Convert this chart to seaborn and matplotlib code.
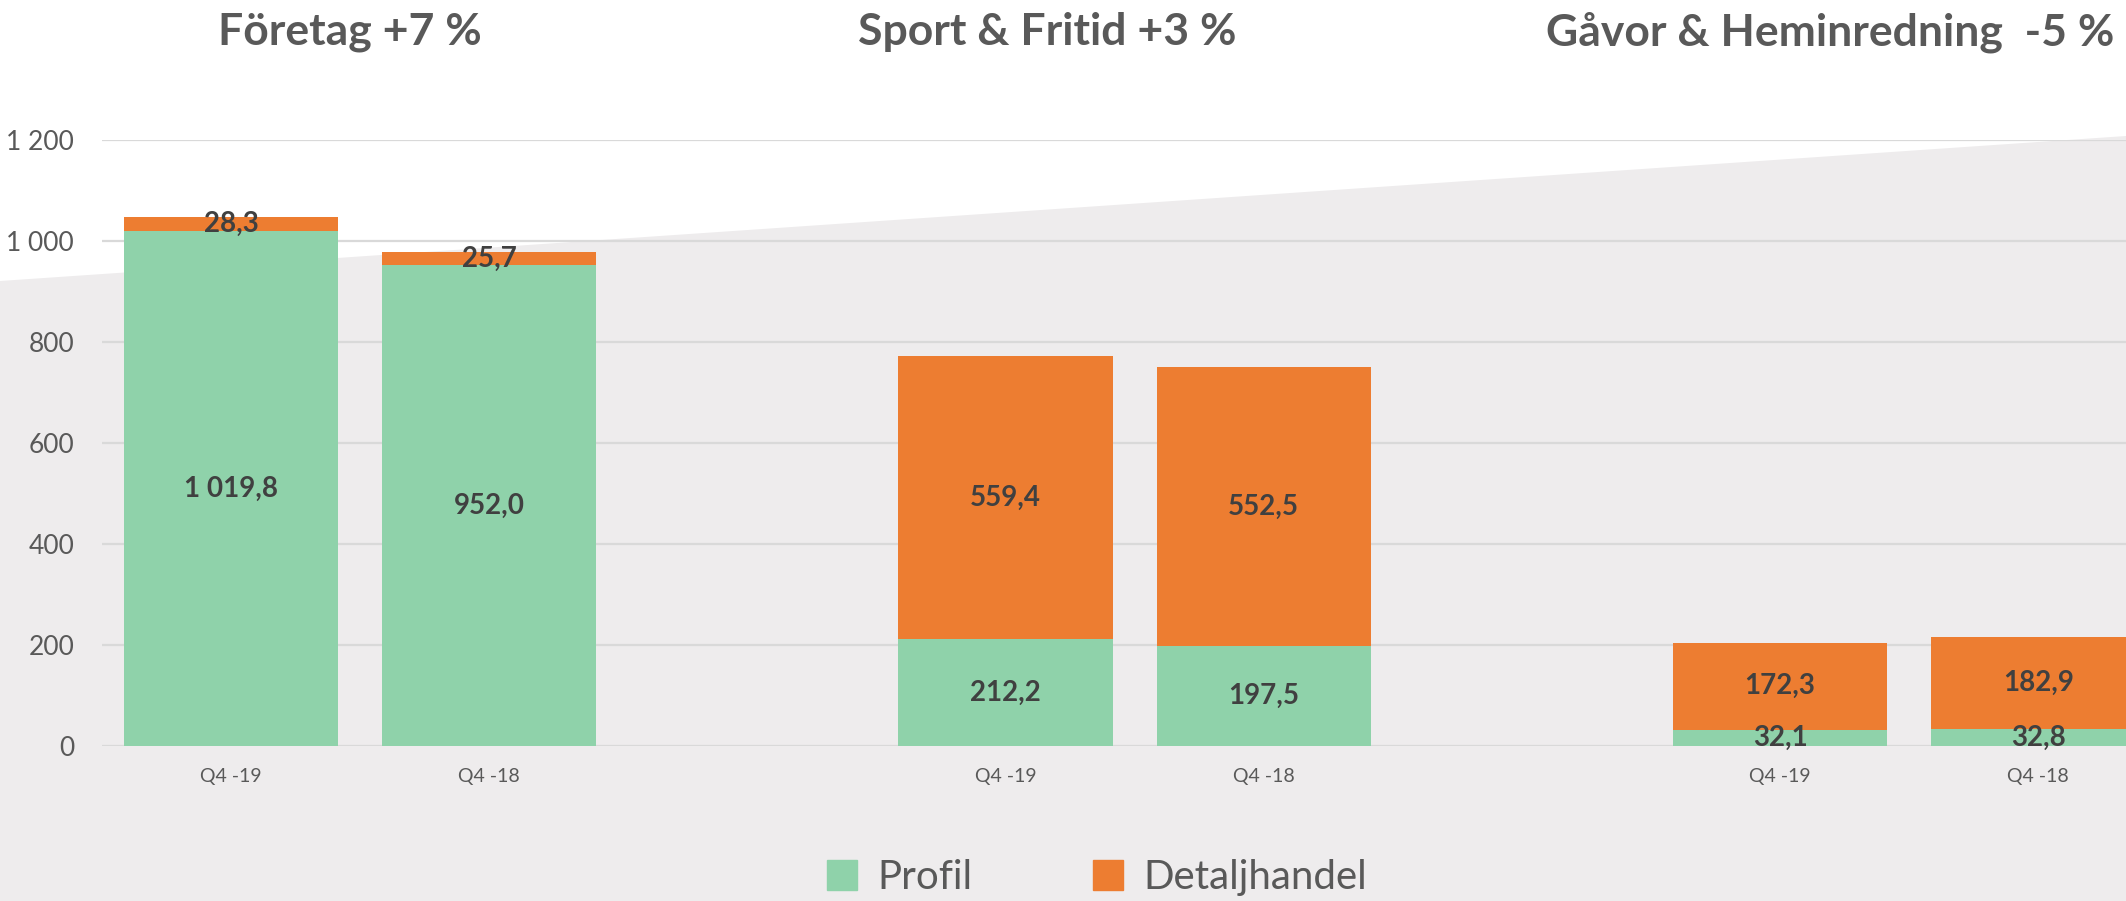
import pandas as pd
import seaborn as sns
import matplotlib.pyplot as plt
from matplotlib.patches import Patch, Polygon

groups = ['Företag', 'Sport & Fritid', 'Gåvor & Heminredning']
group_titles = ['Företag +7 %', 'Sport & Fritid +3 %', 'Gåvor & Heminredning  -5 %']
periods = ['Q4 -19', 'Q4 -18']
profil = [1019.8, 952.0, 212.2, 197.5, 32.1, 32.8]
detaljhandel = [28.3, 25.7, 559.4, 552.5, 172.3, 182.9]
y_ticks = [0, 200, 400, 600, 800, 1000, 1200]

GREEN = '#8FD2AA'
ORANGE = '#ED7D31'
GREY_TXT = '#595959'
BG = '#EEECED'


def fmt(v, dec=1):
    s = f'{v:,.{dec}f}'
    return s.replace(',', ' ').replace('.', ',')


# table: one row per bar, slot leaves an empty gap between groups
rows = []
for gi, g in enumerate(groups):
    for pi, p in enumerate(periods):
        k = gi * len(periods) + pi
        rows.append({'group': g, 'period': p, 'slot': gi * 3 + pi,
                     'Profil': profil[k], 'Detaljhandel': detaljhandel[k]})
df = pd.DataFrame(rows)
df['total'] = df['Profil'] + df['Detaljhandel']

sns.set_style('white')
plt.rcParams['font.family'] = ['Lato', 'DejaVu Sans']

fig = plt.figure(figsize=(21.26, 9.01), dpi=100)
fig.patch.set_facecolor(BG)
# white slanted area at the top
fig.add_artist(Polygon([(0, 1), (1, 1), (1, 1 - 136 / 901), (0, 1 - 281 / 901)],
                       closed=True, transform=fig.transFigure,
                       facecolor='white', edgecolor='none', zorder=-5))

ax = fig.add_axes([102 / 2126, 155 / 901, 1 - 102 / 2126, (746 - 140) / 901])
ax.set_facecolor('none')

sns.barplot(data=df, x='slot', y='total', color=ORANGE, native_scale=True,
            width=0.83, saturation=1, linewidth=0, ax=ax, zorder=2)
sns.barplot(data=df, x='slot', y='Profil', color=GREEN, native_scale=True,
            width=0.83, saturation=1, linewidth=0, ax=ax, zorder=3)

for _, r in df.iterrows():
    ax.text(r['slot'], r['Profil'] / 2, fmt(r['Profil']), ha='center', va='center',
            fontsize=20, fontweight='bold', color='#404040', zorder=5)
    ax.text(r['slot'], r['Profil'] + r['Detaljhandel'] / 2, fmt(r['Detaljhandel']),
            ha='center', va='center', fontsize=20, fontweight='bold',
            color='#404040', zorder=5)

ax.set_xlim(-0.5, 7.34)
ax.set_ylim(0, 1200)
ax.set_yticks(y_ticks)
ax.set_yticklabels([fmt(v, 0) for v in y_ticks])
ax.set_xticks(df['slot'])
ax.set_xticklabels(df['period'])
ax.tick_params(axis='y', length=0, pad=20, labelsize=19, labelcolor=GREY_TXT)
ax.tick_params(axis='x', length=0, pad=16, labelsize=14, labelcolor=GREY_TXT)
ax.set_xlabel('')
ax.set_ylabel('')
ax.grid(axis='y', color='#D9D9D9', lw=1.6, zorder=0)
ax.set_axisbelow(True)
sns.despine(ax=ax, left=True, bottom=True)

title_x = [350 / 2126, 1047 / 2126, 1830 / 2126]
for tx, t in zip(title_x, group_titles):
    fig.text(tx, 1 - 32 / 901, t, ha='center', va='center', fontsize=32,
             fontweight='bold', color=GREY_TXT)

handles = [Patch(color=GREEN, label='Profil'), Patch(color=ORANGE, label='Detaljhandel')]
fig.legend(handles=handles, loc='center', bbox_to_anchor=(0.516, 0.026), ncol=2,
           frameon=False, fontsize=29, handlelength=0.75, handleheight=0.75,
           handletextpad=0.5, columnspacing=3.0, labelcolor=GREY_TXT)

fig.savefig('out.png', dpi=100, facecolor=fig.get_facecolor())
